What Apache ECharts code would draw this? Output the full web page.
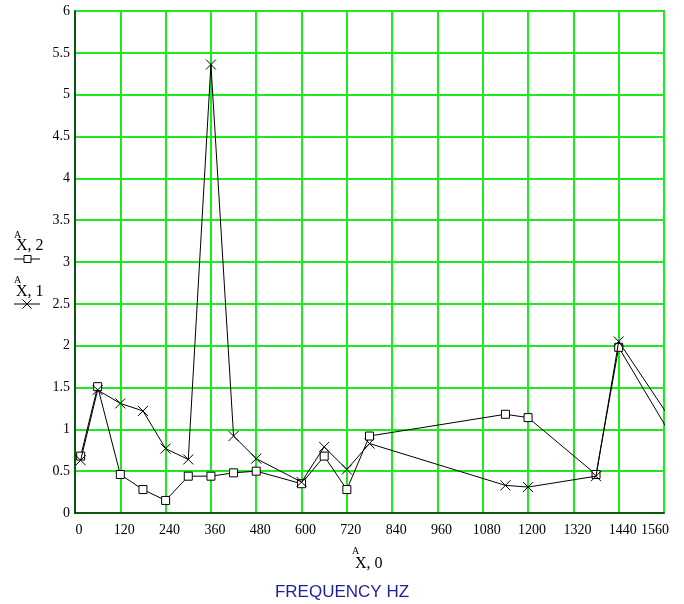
<!DOCTYPE html>
<html>
<head>
<meta charset="utf-8">
<script src="https://cdn.jsdelivr.net/npm/echarts@6/dist/echarts.min.js"></script>
<style>html,body{margin:0;padding:0;background:#fff;}#c{width:684px;height:604px;}</style>
</head>
<body>
<div id="c"></div>
<script>
// Frequencies (Hz) — last point lies beyond the axis maximum and is clipped
const freq = [15, 60, 120, 180, 240, 300, 360, 420, 480, 600, 660, 720, 780, 1140, 1200, 1380, 1440, 1680];
const ax1 = [0.63, 1.47, 1.31, 1.22, 0.77, 0.64, 5.36, 0.92, 0.65, 0.37, 0.79, 0.52, 0.83, 0.33, 0.31, 0.44, 2.05, 0.43];
const ax2 = [0.68, 1.51, 0.46, 0.28, 0.15, 0.44, 0.44, 0.48, 0.50, 0.35, 0.68, 0.28, 0.92, 1.18, 1.14, 0.46, 1.98, 0.16];
const xTicks = [0, 120, 240, 360, 480, 600, 720, 840, 960, 1080, 1200, 1320, 1440, 1560];
const yTicks = [0, 0.5, 1, 1.5, 2, 2.5, 3, 3.5, 4, 4.5, 5, 5.5, 6];

const serif = "'Liberation Serif', 'DejaVu Serif', serif";
const green = '#1ee81e';
const crossPath = 'path://M0,0L10,10M10,0L0,10';
const squarePath = 'path://M0,0L10,0L10,10L0,10Z';
const xMax = xTicks[xTicks.length - 1];

const chart = echarts.init(document.getElementById('c'), null, {renderer: 'canvas'});
chart.setOption({
  animation: false,
  backgroundColor: '#fff',
  grid: {left: 75, right: 20, top: 11, bottom: 91, show: true, borderColor: '#062806', borderWidth: 1.5, backgroundColor: 'transparent'},
  xAxis: {
    type: 'value', min: xTicks[0], max: xMax, interval: 120,
    axisLine: {show: true, lineStyle: {color: '#062806', width: 1.5}},
    axisTick: {show: false},
    splitLine: {show: true, lineStyle: {color: green, width: 2}},
    axisLabel: {color: '#000', fontFamily: serif, fontSize: 14, margin: 10, padding: [0, 0, 0, 8],
      showMinLabel: true, showMaxLabel: true, hideOverlap: false,
      formatter: v => v === xMax ? '{m|' + v + '}' : String(v),
      rich: {m: {fontFamily: serif, fontSize: 14, color: '#000', padding: [0, 26, 0, 0]}}}
  },
  yAxis: {
    type: 'value', min: yTicks[0], max: yTicks[yTicks.length - 1], interval: 0.5,
    axisLine: {show: true, lineStyle: {color: '#062806', width: 1.5}},
    axisTick: {show: false},
    splitLine: {show: true, lineStyle: {color: green, width: 2}},
    axisLabel: {color: '#000', fontFamily: serif, fontSize: 14, margin: 5, formatter: v => String(v)}
  },
  series: [
    {
      name: 'A X,2', type: 'line', clip: true,
      data: freq.map((f, i) => [f, ax2[i]]),
      symbol: squarePath, symbolSize: 8,
      itemStyle: {color: '#fff', borderColor: '#000', borderWidth: 1},
      lineStyle: {color: '#000', width: 1},
      z: 3
    },
    {
      name: 'A X,1', type: 'line', clip: true,
      data: freq.map((f, i) => [f, ax1[i]]),
      symbol: crossPath, symbolSize: 10,
      itemStyle: {color: '#000', borderColor: '#000', borderWidth: 1},
      lineStyle: {color: '#000', width: 1},
      z: 4
    }
  ],
  graphic: [
    {type: 'text', left: 14, top: 230, style: {text: 'A', font: '10px ' + serif, fill: '#000'}},
    {type: 'text', left: 16, top: 238, style: {text: 'X, 2', font: '16px ' + serif, fill: '#000'}},
    {type: 'line', shape: {x1: 14, y1: 259, x2: 40, y2: 259}, style: {stroke: '#000', lineWidth: 1}},
    {type: 'rect', shape: {x: 24, y: 255.5, width: 7, height: 7}, style: {stroke: '#000', fill: '#fff', lineWidth: 1}},
    {type: 'text', left: 14, top: 275, style: {text: 'A', font: '10px ' + serif, fill: '#000'}},
    {type: 'text', left: 16, top: 284, style: {text: 'X, 1', font: '16px ' + serif, fill: '#000'}},
    {type: 'line', shape: {x1: 14, y1: 304, x2: 40, y2: 304}, style: {stroke: '#000', lineWidth: 1}},
    {type: 'polyline', shape: {points: [[22.5, 299.5], [31.5, 308.5]]}, style: {stroke: '#000', lineWidth: 1}},
    {type: 'polyline', shape: {points: [[31.5, 299.5], [22.5, 308.5]]}, style: {stroke: '#000', lineWidth: 1}},
    {type: 'text', left: 352, top: 546, style: {text: 'A', font: '10px ' + serif, fill: '#000'}},
    {type: 'text', left: 355, top: 556, style: {text: 'X, 0', font: '16px ' + serif, fill: '#000'}},
    {type: 'text', left: 'center', top: 584, style: {text: 'FREQUENCY HZ', font: '17px "Liberation Sans", Arial, sans-serif', fill: '#1f1f9e'}}
  ]
});
</script>
</body>
</html>
